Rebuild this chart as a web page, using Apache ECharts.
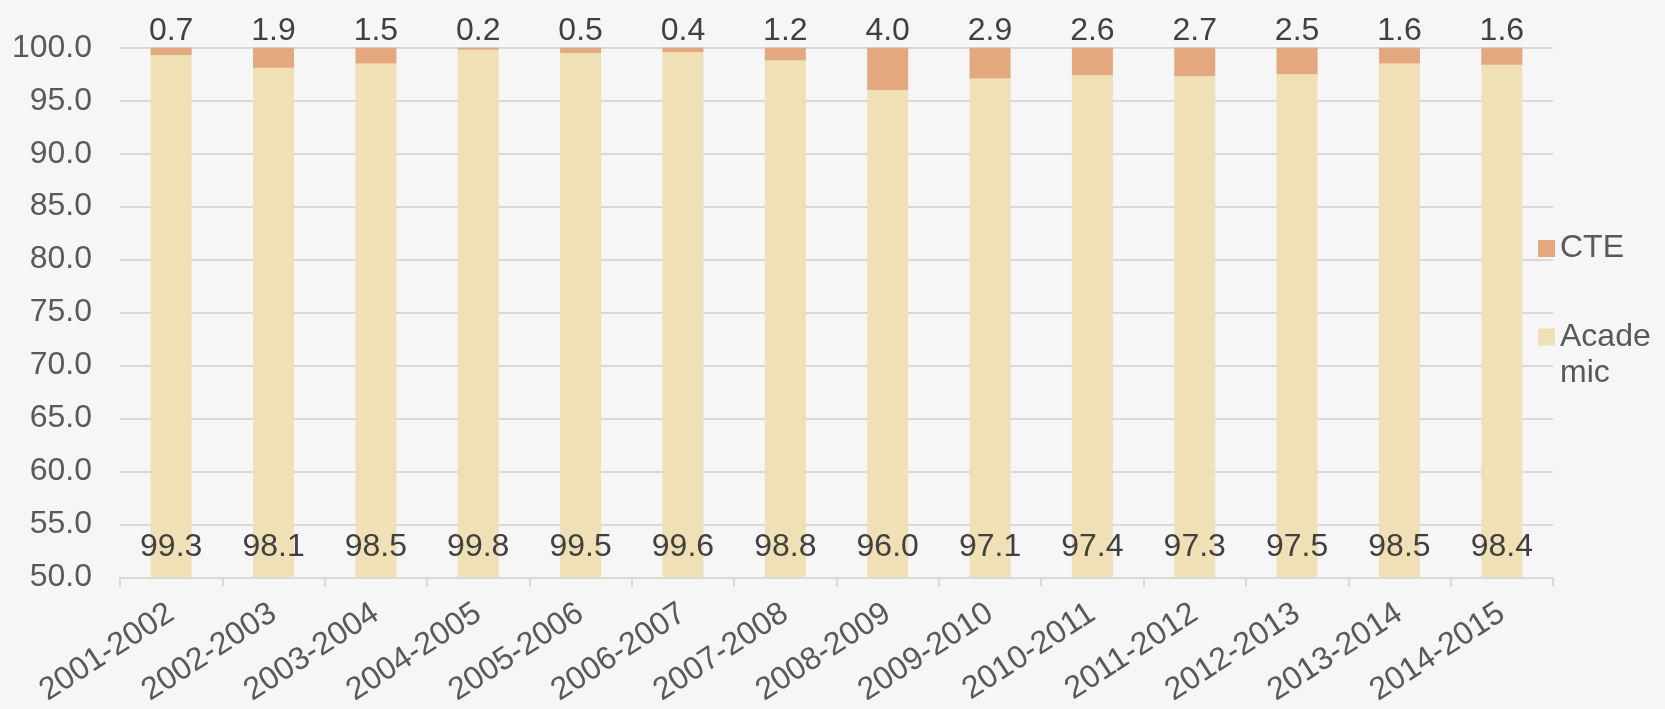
<!DOCTYPE html>
<html>
<head>
<meta charset="utf-8">
<script src="https://cdn.jsdelivr.net/npm/echarts@6/dist/echarts.min.js"></script>
<style>
html,body{margin:0;padding:0;background:#f6f6f6;}
#chart{width:1665px;height:709px;}
</style>
</head>
<body>
<div id="chart"></div>
<script>
var categories = ['2001-2002','2002-2003','2003-2004','2004-2005','2005-2006','2006-2007','2007-2008','2008-2009','2009-2010','2010-2011','2011-2012','2012-2013','2013-2014','2014-2015'];
var academic = [99.3,98.1,98.5,99.8,99.5,99.6,98.8,96.0,97.1,97.4,97.3,97.5,98.5,98.4];
var cte = [0.7,1.9,1.5,0.2,0.5,0.4,1.2,4.0,2.9,2.6,2.7,2.5,1.6,1.6];

var FONT = '"Liberation Sans", Arial, sans-serif';
var FS = 32;
var chart = echarts.init(document.getElementById('chart'), null, {renderer:'canvas'});
chart.setOption({
  backgroundColor: '#f6f6f6',
  animation: false,
  textStyle: {fontFamily: FONT},
  grid: {left: 120, right: 112, top: 47.7, bottom: 131.3, containLabel: false},
  legend: [{
    data: ['CTE'],
    orient: 'vertical',
    left: 1538, top: 231,
    padding: 0,
    itemWidth: 17, itemHeight: 17,
    icon: 'rect',
    textStyle: {fontFamily: FONT, fontSize: FS, color: '#595959', lineHeight: 35}
  },{
    data: ['Academic'],
    orient: 'vertical',
    left: 1538, top: 283,
    padding: 0,
    itemWidth: 17, itemHeight: 17,
    icon: 'rect',
    formatter: function(n){ return '\nAcade\nmic'; },
    textStyle: {fontFamily: FONT, fontSize: FS, color: '#595959', lineHeight: 36}
  }],
  xAxis: {
    type: 'category',
    data: categories,
    axisLine: {show: true, lineStyle: {color: '#d9d9d9', width: 2}},
    axisTick: {show: true, alignWithLabel: false, length: 9, lineStyle: {color: '#d9d9d9', width: 2}},
    axisLabel: {rotate: 33, interval: 0, margin: 33, fontFamily: FONT, fontSize: FS, color: '#595959'},
    splitLine: {show: false}
  },
  yAxis: {
    type: 'value',
    min: 50, max: 100, interval: 5,
    axisLine: {show: false},
    axisTick: {show: false},
    axisLabel: {margin: 28, fontFamily: FONT, fontSize: FS, color: '#595959',
      formatter: function(v){ return v.toFixed(1); }},
    splitLine: {lineStyle: {color: '#d9d9d9', width: 2}}
  },
  series: [{
    name: 'Academic',
    type: 'bar',
    stack: 'total',
    data: academic,
    barWidth: 41,
    itemStyle: {color: '#efe0b5'},
    label: {show: true, position: 'insideBottom', distance: 14, fontFamily: FONT, fontSize: FS, color: '#404040',
      formatter: function(p){ return p.value.toFixed(1); }}
  },{
    name: 'CTE',
    type: 'bar',
    stack: 'total',
    data: cte,
    barWidth: 41,
    itemStyle: {color: '#e3a87e'},
    label: {show: true, position: 'top', distance: 1, fontFamily: FONT, fontSize: FS, color: '#404040',
      formatter: function(p){ return p.value.toFixed(1); }}
  }]
});
</script>
</body>
</html>
